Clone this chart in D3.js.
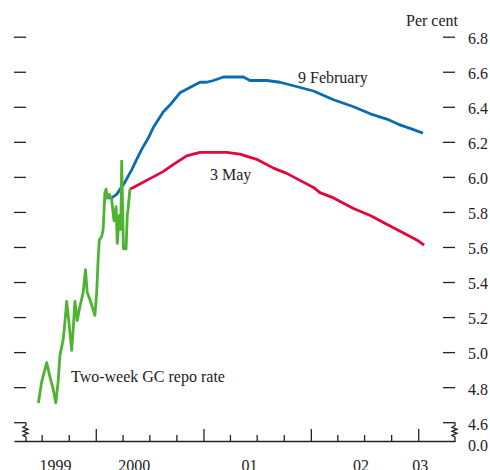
<!DOCTYPE html>
<html>
<head>
<meta charset="utf-8">
<script src="https://cdn.jsdelivr.net/npm/d3@7"></script>
<style>
body { margin: 0; background: #fff; }
text { font-family: "Liberation Serif", "Times New Roman", serif; font-size: 16px; fill: #222; }
.tick line, .domain, .brk { stroke: #222; stroke-width: 1.3; fill: none; }
</style>
</head>
<body>
<script>

// two-week GC repo rate
var repoDates = ["1999-06-20","1999-07-01","1999-07-12","1999-07-18","1999-07-29","1999-08-09","1999-08-18",
  "1999-08-26","1999-09-01","1999-09-12","1999-09-18","1999-09-24","1999-10-03","1999-10-11","1999-10-17",
  "1999-10-22","1999-10-30","1999-11-08","1999-11-19","1999-11-27","1999-12-03","1999-12-12","1999-12-29",
  "2000-01-04","2000-01-09","2000-01-13","2000-01-21","2000-01-26","2000-02-01","2000-02-05","2000-02-09",
  "2000-02-16","2000-02-24","2000-03-03","2000-03-10","2000-03-14","2000-03-21","2000-03-26","2000-03-29",
  "2000-04-04","2000-04-13","2000-04-17","2000-04-20","2000-04-26"];
var repoRates = [4.71,4.83,4.90,4.94,4.86,4.79,4.71,
  4.83,4.98,5.07,5.17,5.29,5.15,5.01,5.15,
  5.29,5.18,5.26,5.34,5.47,5.34,5.30,5.21,
  5.34,5.53,5.64,5.66,5.70,5.91,5.93,5.88,
  5.90,5.87,5.75,5.83,5.62,5.78,5.70,6.09,
  5.59,5.59,5.78,5.82,5.93];

// forward curve, 9 February
var febDates = ["2000-02-01","2000-02-24","2000-03-12","2000-04-09","2000-05-02","2000-05-19","2000-06-06",
  "2000-06-27","2000-07-14","2000-08-17","2000-09-09","2000-10-13","2000-11-16","2000-12-20","2001-01-12",
  "2001-02-04","2001-03-10","2001-05-17","2001-06-08","2001-08-04","2001-09-18","2001-11-03","2002-01-10",
  "2002-03-19","2002-05-26","2002-07-22","2002-09-16","2002-10-26","2002-12-16","2003-01-17"];
var febRates = [5.88,5.88,5.90,5.97,6.04,6.10,6.16,
  6.22,6.28,6.37,6.41,6.48,6.51,6.54,6.54,
  6.55,6.57,6.57,6.55,6.55,6.54,6.52,6.49,
  6.44,6.40,6.36,6.33,6.30,6.27,6.25];

// forward curve, 3 May
var mayDates = ["2000-04-26","2000-05-30","2000-07-03","2000-08-17","2000-09-20","2000-11-05","2000-12-20",
  "2001-03-21","2001-05-05","2001-07-01","2001-08-27","2001-10-11","2001-11-25","2002-01-10","2002-02-01",
  "2002-03-19","2002-05-26","2002-07-22","2002-09-16","2002-11-12","2002-12-27","2003-01-21"];
var mayRates = [5.93,5.96,5.99,6.03,6.07,6.12,6.14,
  6.14,6.13,6.10,6.05,6.02,5.98,5.94,5.91,
  5.88,5.82,5.78,5.73,5.68,5.64,5.61];

var yTicks = [4.6,4.8,5.0,5.2,5.4,5.6,5.8,6.0,6.2,6.4,6.6,6.8];
var yearLabels = ["1999","2000","01","02","03"];
var yearLabelDates = ["1999-08-15","2000-05-09","2001-06-05","2002-06-19","2003-01-06"];

var parse = d3.timeParse("%Y-%m-%d");
var baseY = 441;

var x = d3.scaleTime()
  .domain([parse("1999-03-29"), parse("2003-05-06")])
  .range([14, 455]);
var y = d3.scaleLinear()
  .domain([4.6, 6.8])
  .range([422.2, 36.7]);

var svg = d3.select("body").append("svg")
  .attr("width", 490)
  .attr("height", 470);

function zip(dates, vals) {
  return dates.map(function(d, i) { return {date: parse(d), value: vals[i]}; });
}

// y ticks, both sides
svg.append("g")
  .attr("transform", "translate(26,0)")
  .call(d3.axisLeft(y).tickValues(yTicks).tickSize(12).tickFormat(""))
  .call(function(g) { g.select(".domain").remove(); });

svg.append("g")
  .attr("transform", "translate(443,0)")
  .call(d3.axisRight(y).tickValues(yTicks).tickSize(12).tickPadding(13).tickFormat(d3.format(".1f")))
  .call(function(g) { g.select(".domain").remove(); })
  .selectAll("text").attr("dy", "0.43em");

svg.append("text")
  .attr("x", 468).attr("y", baseY + 10)
  .text("0.0");

// x axis: quarters and years
var quarters = d3.timeMonth.every(3).range(parse("1999-07-01"), parse("2003-01-02"));
var minor = quarters.filter(function(d) { return d.getMonth() != 0; });
var major = quarters.filter(function(d) { return d.getMonth() == 0; });

svg.append("g")
  .attr("transform", "translate(0," + baseY + ")")
  .call(d3.axisBottom(x).tickValues(minor).tickSize(-6).tickSizeOuter(0).tickFormat(""));

svg.append("g")
  .attr("transform", "translate(0," + baseY + ")")
  .call(d3.axisBottom(x).tickValues(major).tickSize(-12).tickSizeOuter(0).tickFormat(""))
  .call(function(g) { g.select(".domain").remove(); });

svg.append("g")
  .attr("transform", "translate(0," + baseY + ")")
  .call(d3.axisBottom(x).tickValues(yearLabelDates.map(parse)).tickSize(0).tickPadding(19)
    .tickFormat(function(d, i) { return yearLabels[i]; }))
  .call(function(g) { g.select(".domain").remove(); });

// axis breaks
var y0 = Math.round(y(4.6)) + 0.5;
[26, 455].forEach(function(bx) {
  svg.append("path")
    .attr("class", "brk")
    .attr("d", "M" + bx + "," + y0 + " V" + (y0 + 3) + " l-3,1.8 l5,2 l-5,2 l5,2 l-5,2 l3,1.8 V" + (baseY + 0.5));
});

// lines
var line = d3.line()
  .x(function(d) { return x(d.date); })
  .y(function(d) { return y(d.value); });

svg.append("path")
  .datum(zip(febDates, febRates))
  .attr("d", line)
  .attr("fill", "none")
  .attr("stroke", "#0a6cb0")
  .attr("stroke-width", 2.8)
  .attr("stroke-linejoin", "round");

svg.append("path")
  .datum(zip(mayDates, mayRates))
  .attr("d", line)
  .attr("fill", "none")
  .attr("stroke", "#e2063f")
  .attr("stroke-width", 2.8)
  .attr("stroke-linejoin", "round");

svg.append("path")
  .datum(zip(repoDates, repoRates))
  .attr("d", line)
  .attr("fill", "none")
  .attr("stroke", "#4cb431")
  .attr("stroke-width", 2.8)
  .attr("stroke-linejoin", "round");

// labels
svg.append("text").attr("x", 458).attr("y", 26).attr("text-anchor", "end").text("Per cent");
svg.append("text").attr("x", 298).attr("y", 83).text("9 February");
svg.append("text").attr("x", 210).attr("y", 180).text("3 May");
svg.append("text").attr("x", 71).attr("y", 382).text("Two-week GC repo rate");

</script>
</body>
</html>
